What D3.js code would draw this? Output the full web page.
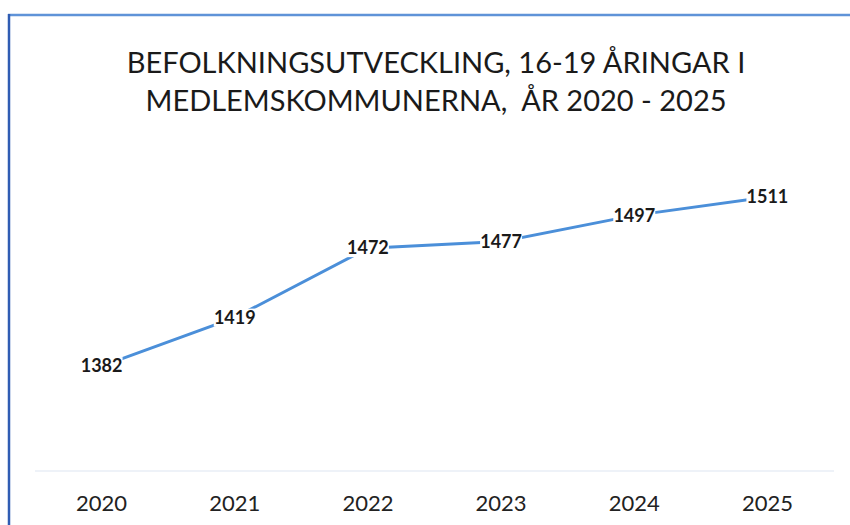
<!DOCTYPE html>
<html>
<head>
<meta charset="utf-8">
<script src="https://cdn.jsdelivr.net/npm/d3@7"></script>
<style>
  body { margin: 0; background: #fff; }
  svg { display: block; }
</style>
</head>
<body>
<div id="chart"></div>
<script>
// Data
let years = ["2020", "2021", "2022", "2023", "2024", "2025"];
let values = [1382, 1419, 1472, 1477, 1497, 1511];
let titleLines = ["BEFOLKNINGSUTVECKLING, 16-19 ÅRINGAR I", "MEDLEMSKOMMUNERNA,  ÅR 2020 - 2025"];

let width = 850;
let height = 525;
let plotLeft = 35, plotRight = 834, plotTop = 159, plotBottom = 471;

let svg = d3.select("#chart").append("svg")
    .attr("width", width)
    .attr("height", height);

// chart frame (only top and left edges visible)
svg.append("line")
    .attr("x1", 8).attr("x2", width).attr("y1", 15).attr("y2", 15)
    .attr("stroke", "#5f93d8").attr("stroke-width", 2.5);
svg.append("line")
    .attr("x1", 9).attr("x2", 9).attr("y1", 14).attr("y2", height)
    .attr("stroke", "#2f5cb3").attr("stroke-width", 2.5);

// title
svg.append("g").selectAll("text")
    .data(titleLines)
    .join("text")
    .attr("x", 436)
    .attr("y", (d, i) => 73 + i * 38)
    .attr("text-anchor", "middle")
    .style("white-space", "pre")
    .style("font-family", "Lato, sans-serif")
    .style("font-size", "29px")
    .style("fill", "#1a1a1a")
    .text(d => d);

let x = d3.scaleBand().domain(years).range([plotLeft, plotRight]);
let y = d3.scaleLinear().domain([1302, 1540]).range([plotBottom, plotTop]);

// baseline
svg.append("line")
    .attr("x1", plotLeft).attr("x2", plotRight)
    .attr("y1", plotBottom).attr("y2", plotBottom)
    .attr("stroke", "#dde6f2").attr("stroke-width", 1.2);

// x axis labels
let xAxis = svg.append("g")
    .attr("transform", `translate(0,${plotBottom})`)
    .call(d3.axisBottom(x).tickSize(0).tickPadding(24));
xAxis.select(".domain").remove();
xAxis.selectAll("text")
    .style("font-family", "Lato, sans-serif")
    .style("font-size", "22px")
    .style("fill", "#222");

let pts = years.map((yr, i) => ({ year: yr, value: values[i] }));
let cx = d => x(d.year) + x.bandwidth() / 2;

// line
svg.append("path")
    .datum(pts)
    .attr("fill", "none")
    .attr("stroke", "#4b8fd9")
    .attr("stroke-width", 3)
    .attr("d", d3.line().x(cx).y(d => y(d.value)));

// data labels with white background
let labels = svg.append("g").selectAll("g")
    .data(pts)
    .join("g")
    .attr("transform", d => `translate(${cx(d)},${y(d.value)})`);
labels.append("rect")
    .attr("x", -21).attr("y", -9).attr("width", 42).attr("height", 18)
    .attr("fill", "#fff");
labels.append("text")
    .attr("text-anchor", "middle")
    .attr("dy", "0.35em")
    .style("font-family", "Lato, sans-serif")
    .style("font-weight", "bold")
    .style("font-size", "18px")
    .style("fill", "#1a1a1a")
    .text(d => d.value);
</script>
</body>
</html>
